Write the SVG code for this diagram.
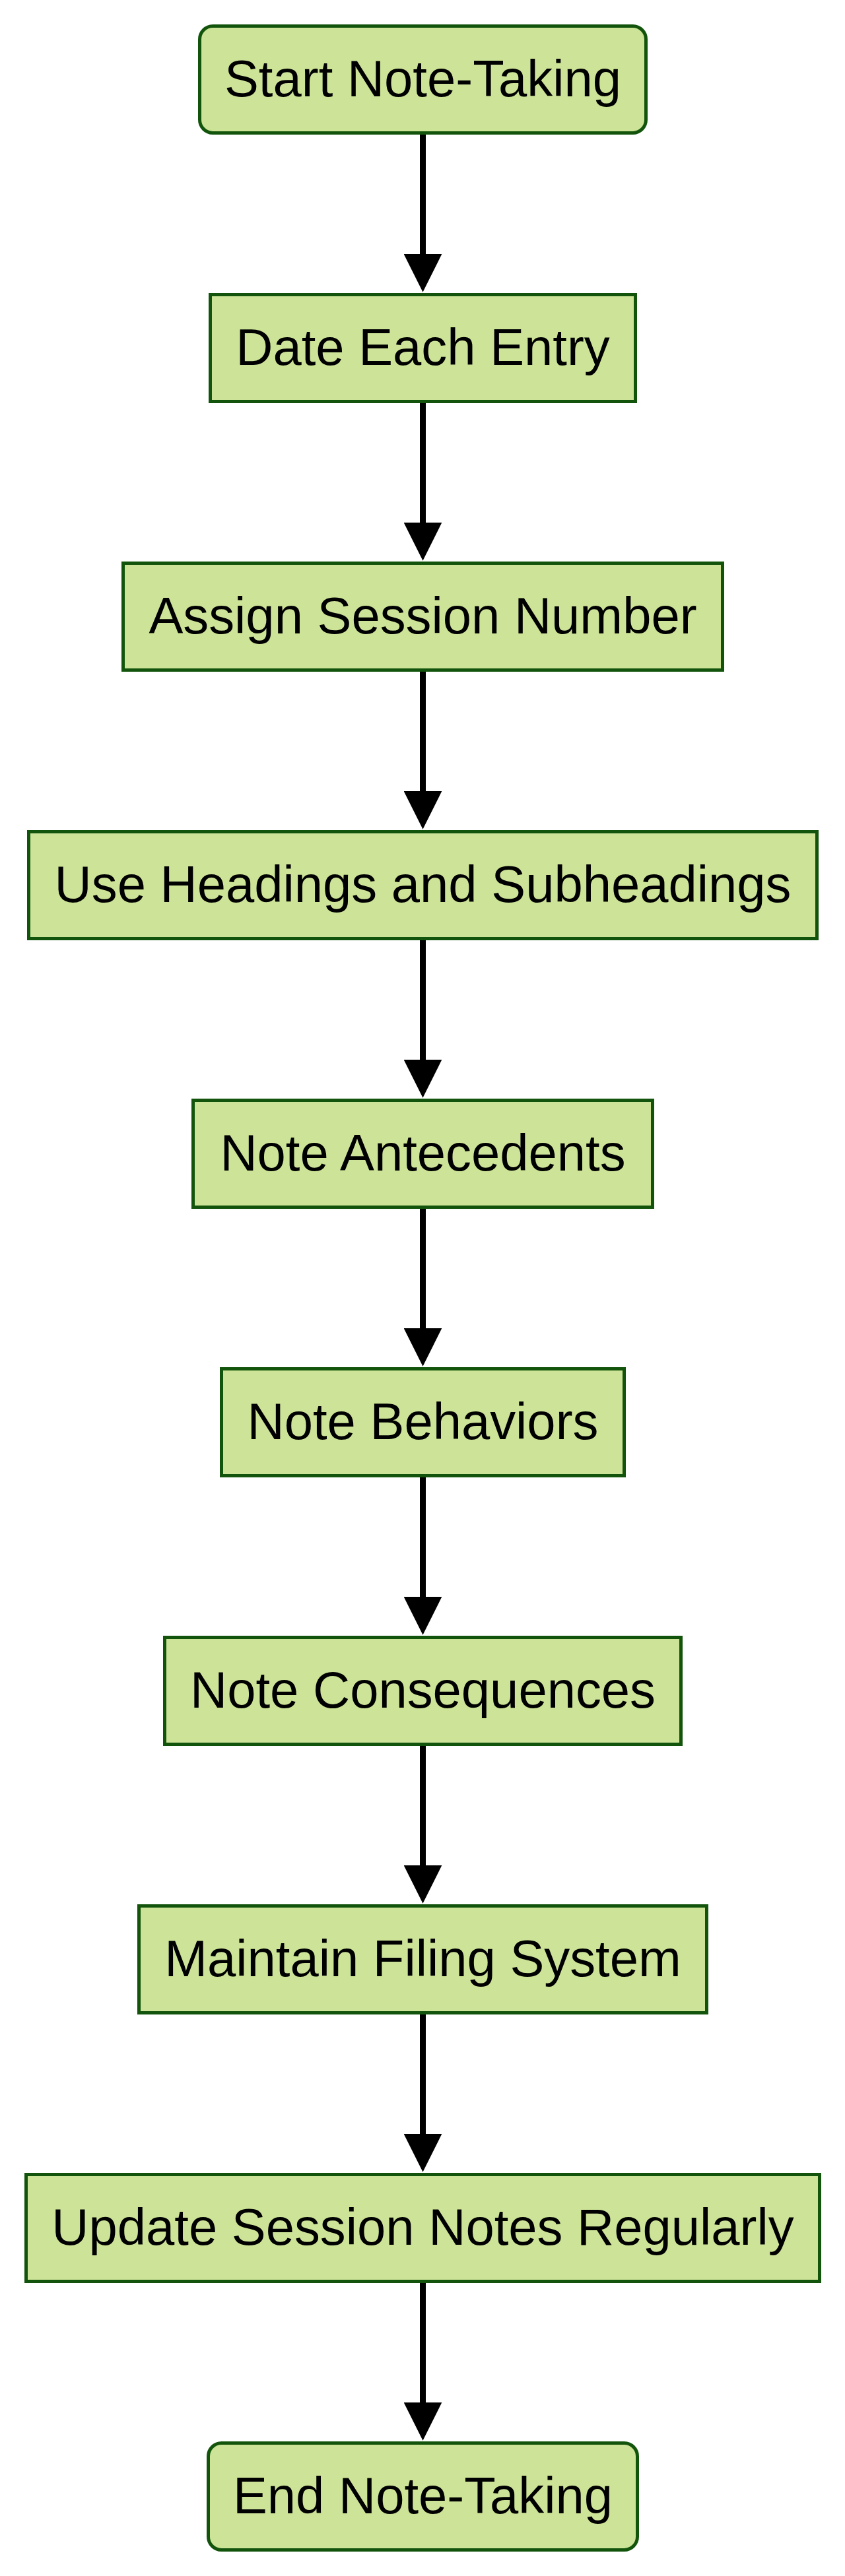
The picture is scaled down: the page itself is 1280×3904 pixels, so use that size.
<svg xmlns="http://www.w3.org/2000/svg" width="1280" height="3904" viewBox="0 0 1280 3904">
<style>
.n rect{fill:#cde498;stroke:#13540c;stroke-width:5}
.n text{font-family:"Liberation Sans",Arial,sans-serif;font-size:77.8px;fill:#000;text-anchor:middle}
.e path{fill:none;stroke:#000;stroke-width:9}
</style>
<defs>
<marker id="arr" viewBox="0 0 10 10" refX="0.4" refY="5" markerWidth="58" markerHeight="58" markerUnits="userSpaceOnUse" orient="auto">
<path d="M0,0 L10,5 L0,10 z" fill="#000"/>
</marker>
</defs>
<rect width="1280" height="3904" fill="#fff"/>
<g id="connectors" class="e">
<path d="M640.5,204 V387" marker-end="url(#arr)"/>
<path d="M640.5,611 V794" marker-end="url(#arr)"/>
<path d="M640.5,1018 V1201" marker-end="url(#arr)"/>
<path d="M640.5,1425 V1608" marker-end="url(#arr)"/>
<path d="M640.5,1832 V2015" marker-end="url(#arr)"/>
<path d="M640.5,2239 V2422" marker-end="url(#arr)"/>
<path d="M640.5,2646 V2829" marker-end="url(#arr)"/>
<path d="M640.5,3053 V3236" marker-end="url(#arr)"/>
<path d="M640.5,3460 V3643" marker-end="url(#arr)"/>
</g>
<g id="n1" class="n"><rect x="302.5" y="39.5" width="676" height="162" rx="20" ry="20"/><text x="640.5" y="145.5">Start Note-Taking</text></g>
<g id="n2" class="n"><rect x="318.5" y="446.5" width="644" height="162"/><text x="640.5" y="552.5">Date Each Entry</text></g>
<g id="n3" class="n"><rect x="186.5" y="853.5" width="908" height="162"/><text x="640.5" y="959.5">Assign Session Number</text></g>
<g id="n4" class="n"><rect x="43.5" y="1260.5" width="1194" height="162"/><text x="640.5" y="1366.5">Use Headings and Subheadings</text></g>
<g id="n5" class="n"><rect x="292.5" y="1667.5" width="696" height="162"/><text x="640.5" y="1773.5">Note Antecedents</text></g>
<g id="n6" class="n"><rect x="335.5" y="2074.5" width="610" height="162"/><text x="640.5" y="2180.5">Note Behaviors</text></g>
<g id="n7" class="n"><rect x="249.5" y="2481.5" width="782" height="162"/><text x="640.5" y="2587.5">Note Consequences</text></g>
<g id="n8" class="n"><rect x="210.5" y="2888.5" width="860" height="162"/><text x="640.5" y="2994.5">Maintain Filing System</text></g>
<g id="n9" class="n"><rect x="39.5" y="3295.5" width="1202" height="162"/><text x="640.5" y="3401.5">Update Session Notes Regularly</text></g>
<g id="n10" class="n"><rect x="315.5" y="3702.5" width="650" height="162" rx="20" ry="20"/><text x="640.5" y="3808.5">End Note-Taking</text></g>
</svg>
